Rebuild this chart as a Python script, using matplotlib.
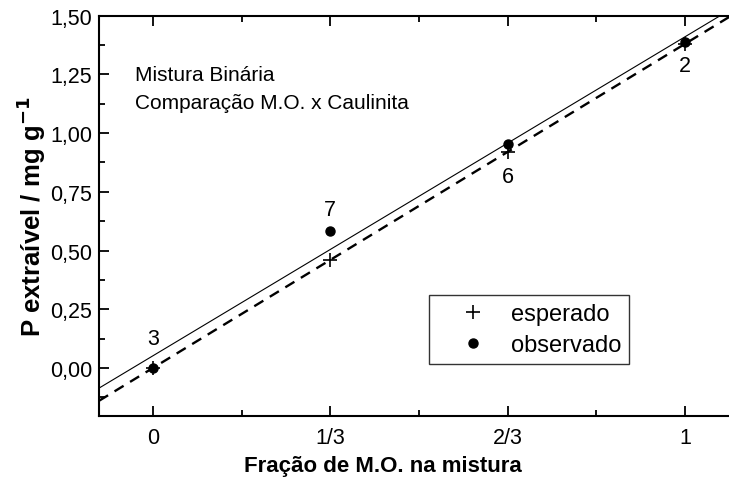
import matplotlib
matplotlib.use('Agg')
import matplotlib.pyplot as plt
import numpy as np
from matplotlib.ticker import FixedLocator, FixedFormatter, MultipleLocator

plt.rcParams['font.family'] = ['Liberation Sans', 'DejaVu Sans']

# fração de M.O. na mistura binária
fracao = [0, 1/3, 2/3, 1]
esperado = [0.0, 0.46, 0.92, 1.38]
observado = [0.0, 0.585, 0.952, 1.387]
rotulos = ['3', '7', '6', '2']

xtick_pos = [0, 1/3, 2/3, 1]
xtick_labels = ['0', '1/3', '2/3', '1']
ytick_pos = [0.0, 0.25, 0.50, 0.75, 1.00, 1.25, 1.50]
ytick_labels = ['0,00', '0,25', '0,50', '0,75', '1,00', '1,25', '1,50']

fig = plt.figure(figsize=(7.29, 4.81), dpi=100)
ax = fig.add_axes([99 / 729, 64.3 / 481, 636 / 729, 400 / 481])

xlim = (-0.1015, 1.094)
ax.set_xlim(*xlim)
ax.set_ylim(-0.2035, 1.50)

# retas de regressão
xx = np.array(xlim)
a_obs, b_obs = np.polyfit(fracao, observado, 1)
a_esp, b_esp = np.polyfit(fracao, esperado, 1)
ax.plot(xx, a_obs * xx + b_obs, color='black', linewidth=0.8)
ax.plot(xx, a_esp * xx + b_esp, color='black', linewidth=1.7,
        dashes=(4.5, 3.2))

ax.plot(fracao, esperado, linestyle='none', marker='+', markersize=10,
        markeredgewidth=1.2, color='black', label='esperado')
ax.plot(fracao, observado, linestyle='none', marker='o', markersize=6.5,
        color='black', label='observado')

# números das amostras
offsets = [(0, 21), (0, 15), (0, -23), (0, -17)]
for x, y, lab, off in zip(fracao, observado, rotulos, offsets):
    ax.annotate(lab, (x, y), textcoords='offset points', xytext=off,
                ha='center', va='center', fontsize=15.5)

ax.text(0.057, 0.852, 'Mistura Binária', transform=ax.transAxes,
        fontsize=15, va='center')
ax.text(0.057, 0.782, 'Comparação M.O. x Caulinita', transform=ax.transAxes,
        fontsize=15, va='center')

leg = ax.legend(loc='lower left', bbox_to_anchor=(0.519, 0.129),
                borderaxespad=0, fontsize=17, frameon=True, fancybox=False,
                edgecolor='black', handletextpad=0.1, borderpad=0.35,
                labelspacing=0.38, handlelength=3.0)
leg.get_frame().set_linewidth(1.0)

ax.xaxis.set_major_locator(FixedLocator(xtick_pos))
ax.xaxis.set_major_formatter(FixedFormatter(xtick_labels))
ax.xaxis.set_minor_locator(MultipleLocator(1 / 6))
ax.yaxis.set_major_locator(FixedLocator(ytick_pos))
ax.yaxis.set_major_formatter(FixedFormatter(ytick_labels))
ax.yaxis.set_minor_locator(MultipleLocator(0.125))

ax.tick_params(which='both', direction='in', top=True, right=False,
               width=1.3, labelsize=15.5)
ax.tick_params(which='major', length=7)
ax.tick_params(which='minor', length=4)
ax.tick_params(axis='x', pad=8)
ax.tick_params(axis='y', pad=5)

for side in ['left', 'bottom', 'top']:
    ax.spines[side].set_linewidth(1.5)
ax.spines['right'].set_visible(False)

ax.set_xlabel('Fração de M.O. na mistura', fontsize=16, fontweight='bold')
ax.xaxis.set_label_coords(0.447, -0.098)
ax.set_ylabel(r'P extraível / mg g$^{\mathbf{-1}}$', fontsize=18.5,
              fontweight='bold')
ax.yaxis.set_label_coords(-0.08, 0.5)

fig.savefig('out.png', dpi=100)
